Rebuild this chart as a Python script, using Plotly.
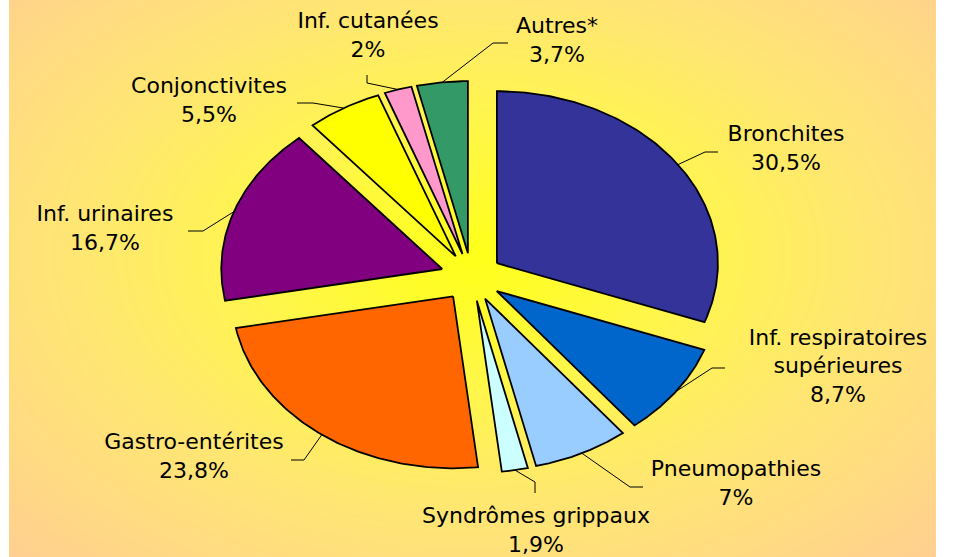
import numpy as np
import plotly.graph_objects as go

# ---- data ----
categories = ["Bronchites", "Inf. respiratoires<br>supérieures", "Pneumopathies",
              "Syndrômes grippaux", "Gastro-entérites", "Inf. urinaires",
              "Conjonctivites", "Inf. cutanées", "Autres*"]
values = [30.5, 8.7, 7, 1.9, 23.8, 16.7, 5.5, 2, 3.7]
colors = ["#333399", "#0066CC", "#99CCFF", "#CCFFFF", "#FF6600",
          "#800080", "#FFFF00", "#FF99CC", "#339966"]

# ---- layout constants (pixel-like coordinate system) ----
W, H = 958, 557
X0, X1 = 9, 936                # coloured panel extent
CX, CY = 471.5, 277.0          # pie centre
RA, RB = 221.0, 172.0          # ellipse radii (tilted pie)
EX, EY = 31.0, 24.0            # explode distance
label_pos = [(786, 150), (838, 368), (736, 485), (536, 532), (194, 458),
             (105, 230), (209, 102), (368, 37), (557, 42)]
elbows = [[(705, 152), (718, 152)], [(712, 368), (725, 368)],
          [(630, 487), (643, 487)], [(535, 482), (535, 493)],
          [(304, 460), (291, 460)], [(203, 231), (188, 231)],
          [(313, 103), (297, 103)], [(367, 83), (367, 75)],
          [(493, 43), (508, 43)]]

fig = go.Figure()

# background radial gradient
gx = np.linspace(X0, X1, 80)
gy = np.linspace(0, H, 50)
GX, GY = np.meshgrid(gx, gy)
D = np.sqrt(((GX - 472) / 463) ** 2 + ((GY - 255) / 300) ** 2) / np.sqrt(2)
D = D / D.max()
fig.add_trace(go.Heatmap(x=gx, y=gy, z=D, zsmooth="best", showscale=False,
                         hoverinfo="skip",
                         colorscale=[[0, "#FFFF1A"], [0.3, "#FFF64A"],
                                     [0.6, "#FFE673"], [0.8, "#FFDB82"],
                                     [1, "#FFCF90"]]))

total = sum(values)
cum = 0.0
for i, (cat, v, col) in enumerate(zip(categories, values, colors)):
    t0 = np.deg2rad(90 - 360 * cum / total)
    t1 = np.deg2rad(90 - 360 * (cum + v) / total)
    cum += v
    tm = (t0 + t1) / 2
    ax_ = CX + EX * np.cos(tm)
    ay_ = CY - EY * np.sin(tm)
    th = np.linspace(t0, t1, 120)
    px = np.concatenate([[ax_], ax_ + RA * np.cos(th), [ax_]])
    py = np.concatenate([[ay_], ay_ - RB * np.sin(th), [ay_]])
    fig.add_trace(go.Scatter(x=px, y=py, mode="lines", fill="toself",
                             fillcolor=col, line=dict(color="black", width=1.8),
                             hoverinfo="text", text=cat, showlegend=False))
    # leader line
    sx = ax_ + RA * np.cos(tm)
    sy = ay_ - RB * np.sin(tm)
    lx = [sx] + [p[0] for p in elbows[i]]
    ly = [sy] + [p[1] for p in elbows[i]]
    fig.add_trace(go.Scatter(x=lx, y=ly, mode="lines",
                             line=dict(color="black", width=1),
                             hoverinfo="skip", showlegend=False))

pct = [f"{v:g}".replace(".", ",") + "%" for v in values]
fig.add_trace(go.Scatter(
    x=[p[0] for p in label_pos], y=[p[1] for p in label_pos],
    mode="text", text=[f"{c}<br>{p}" for c, p in zip(categories, pct)],
    textposition="middle center",
    textfont=dict(family="DejaVu Sans", size=22, color="black"),
    cliponaxis=True, hoverinfo="skip", showlegend=False))

fig.update_layout(
    width=W, height=H, margin=dict(l=0, r=0, t=0, b=0),
    paper_bgcolor="white", plot_bgcolor="#FFE673", showlegend=False,
    xaxis=dict(range=[X0, X1], domain=[X0 / W, X1 / W], visible=False,
               fixedrange=True),
    yaxis=dict(range=[H, 0], visible=False, fixedrange=True),
)
fig.write_html("out.html", config={"displayModeBar": False},
               post_script="document.body.style.margin='0px';"
                           "document.body.style.overflow='hidden';")
